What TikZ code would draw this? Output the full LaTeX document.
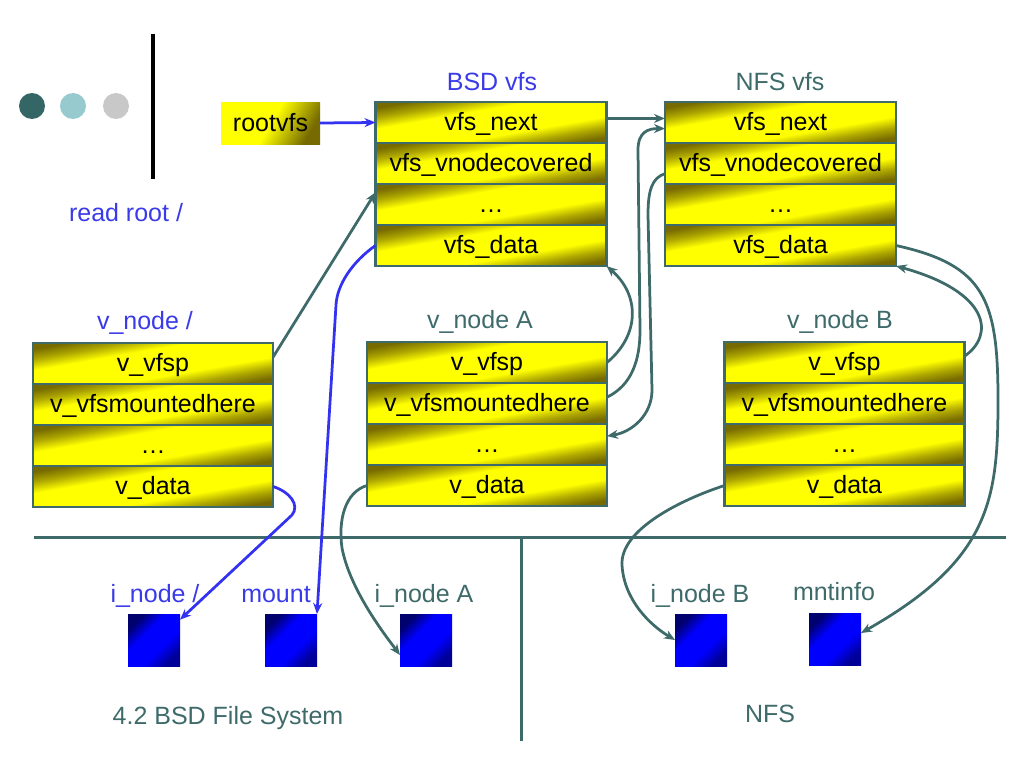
\documentclass[tikz,border=0pt]{standalone}
\usepackage{fontspec}
\setmainfont{Liberation Sans}
\usetikzlibrary{positioning,arrows.meta}

\definecolor{tealline}{RGB}{62,106,106}
\definecolor{labelblue}{RGB}{58,58,232}
\definecolor{linkblue}{RGB}{50,50,240}
\definecolor{celldark}{RGB}{118,106,0}
\definecolor{sqdark}{RGB}{0,0,110}
\definecolor{dotdark}{RGB}{52,102,102}
\definecolor{dotlight}{RGB}{150,202,206}
\definecolor{dotgrey}{RGB}{200,200,200}

\pgfdeclarehorizontalshading{cellshade}{100bp}{color(0bp)=(celldark); color(25bp)=(celldark); color(32bp)=(celldark!60!yellow); color(40bp)=(yellow); color(60bp)=(yellow); color(68bp)=(celldark!60!yellow); color(75bp)=(celldark); color(100bp)=(celldark)}
\pgfdeclarehorizontalshading{rootshade}{100bp}{color(0bp)=(yellow); color(25bp)=(yellow); color(50bp)=(yellow); color(75bp)=(celldark); color(100bp)=(celldark)}
\pgfdeclarehorizontalshading{sqshade}{100bp}{color(0bp)=(sqdark); color(25bp)=(sqdark); color(40bp)=(blue); color(60bp)=(blue); color(75bp)=(sqdark!70!blue); color(100bp)=(sqdark!70!blue)}

\tikzset{
  cell/.style={draw=tealline, line width=2.5pt, shade, shading=cellshade, shading angle=-80,
    minimum width=231pt, minimum height=41pt, inner sep=0pt, outer sep=0pt,
    text height=18pt, text depth=2pt, font=\fontsize{25}{30}\selectfont},
  vcell/.style={cell, minimum width=240pt},
  rootbox/.style={cell, draw=none, shading=rootshade, shading angle=-30, minimum width=99pt, minimum height=42pt},
  sq/.style={shade, shading=sqshade, shading angle=-45, minimum size=52pt, inner sep=0pt, outer sep=0pt},
  bluetitle/.style={anchor=base, inner sep=0pt, text=labelblue, font=\fontsize{25}{30}\selectfont},
  tealtitle/.style={anchor=base, inner sep=0pt, text=tealline, font=\fontsize{25}{30}\selectfont},
  link/.style={draw=tealline, line width=2.75pt, -{Stealth[length=11pt,width=9pt]}},
  bluelink/.style={draw=linkblue, line width=2.75pt, -{Stealth[length=11pt,width=9pt]}}
}

\begin{document}
\begin{tikzpicture}[x=1pt,y=1pt,yscale=-1]
\useasboundingbox (0,0) rectangle (1024,768);

% bullets and bar
\fill[dotdark] (32,106) circle (13);
\fill[dotlight] (73,106) circle (13);
\fill[dotgrey] (116,106) circle (13);
\draw[line width=4pt] (153,34) -- (153,179);

% dividers
\draw[tealline, line width=3pt] (34,537) -- (1006,537);
\draw[tealline, line width=3pt] (521,537) -- (521,741);

% rootvfs
\node[rootbox] (rootvfs) at (270.5,123) {rootvfs};
\node[bluetitle] (readroot) at (126,221) {read root /};

% BSD vfs
\node[cell] (bsd1) at (491,122.5) {vfs\_next};
\node[cell, below=0pt of bsd1] (bsd2) {vfs\_vnodecovered};
\node[cell, below=0pt of bsd2] (bsd3) {…};
\node[cell, below=0pt of bsd3] (bsd4) {vfs\_data};
\node[bluetitle] (bsdtitle) at (492,90) {BSD vfs};

% NFS vfs
\node[cell] (nfs1) at (780.5,122.5) {vfs\_next};
\node[cell, below=0pt of nfs1] (nfs2) {vfs\_vnodecovered};
\node[cell, below=0pt of nfs2] (nfs3) {…};
\node[cell, below=0pt of nfs3] (nfs4) {vfs\_data};
\node[tealtitle] (nfstitle) at (780,90) {NFS vfs};

% v_node /
\node[vcell] (vnr1) at (153,363.5) {v\_vfsp};
\node[vcell, below=0pt of vnr1] (vnr2) {v\_vfsmountedhere};
\node[vcell, below=0pt of vnr2] (vnr3) {…};
\node[vcell, below=0pt of vnr3] (vnr4) {v\_data};
\node[bluetitle] (vnrtitle) at (145,329) {v\_node /};

% v_node A
\node[vcell] (vna1) at (487,362.5) {v\_vfsp};
\node[vcell, below=0pt of vna1] (vna2) {v\_vfsmountedhere};
\node[vcell, below=0pt of vna2] (vna3) {…};
\node[vcell, below=0pt of vna3] (vna4) {v\_data};
\node[tealtitle] (vnatitle) at (480,328) {v\_node A};

% v_node B
\node[vcell] (vnb1) at (844.5,362.5) {v\_vfsp};
\node[vcell, below=0pt of vnb1] (vnb2) {v\_vfsmountedhere};
\node[vcell, below=0pt of vnb2] (vnb3) {…};
\node[vcell, below=0pt of vnb3] (vnb4) {v\_data};
\node[tealtitle] (vnbtitle) at (840,328) {v\_node B};

% inodes
\node[sq] (inroot) at (154,640) {};
\node[sq] (mount) at (291,640) {};
\node[sq] (ina) at (426,640) {};
\node[sq] (inb) at (701,640) {};
\node[sq] (mntinfo) at (835,639) {};
\node[bluetitle] (inroottitle) at (155,602) {i\_node /};
\node[bluetitle] (mounttitle) at (276,602) {mount};
\node[tealtitle] (inatitle) at (424,602) {i\_node A};
\node[tealtitle] (inbtitle) at (700,602) {i\_node B};
\node[tealtitle] (mntinfotitle) at (834,600) {mntinfo};

\node[tealtitle] (bsdfs) at (228,724) {4.2 BSD File System};
\node[tealtitle] (nfsfs) at (770,722) {NFS};

% links
\draw[bluelink] (rootvfs.east) -- (bsd1.west);
\draw[link] (bsd1.2) -- (nfs1.178);
\draw[link] (vnr1.3) -- (bsd3.174);
\draw[bluelink] (bsd4.west) .. controls (352,262) and (337,285) .. (336,305) -- (mount.north east);
\draw[bluelink] (vnr4.east) .. controls (290,492) and (300,505) .. (292,515) -- (inroot.38);
\draw[link] (vna1.east) .. controls (640,335) and (640,295) .. (bsd4.south east);
\draw[link] (vna2.3) .. controls (632,385) and (640,360) .. (640,330) -- (638,150) .. controls (638,132) and (648,128.5) .. (nfs1.183);
\draw[link] (nfs2.185) .. controls (652,178) and (648,190) .. (648,215) -- (652,390) .. controls (652,415) and (632,432) .. (vna3.4);
\draw[link] (vna4.west) .. controls (345,492) and (338,520) .. (342,548) .. controls (350,590) and (385,635) .. (ina.210);
\draw[link] (vnb1.3) .. controls (995,335) and (990,292) .. (nfs4.south east);
\draw[link] (nfs4.east) .. controls (985,265) and (998,300) .. (998,400) .. controls (998,500) and (990,560) .. (mntinfo.13);
\draw[link] (vnb4.west) .. controls (680,500) and (620,530) .. (622,565) .. controls (624,600) and (650,625) .. (inb.west);

\end{tikzpicture}
\end{document}
